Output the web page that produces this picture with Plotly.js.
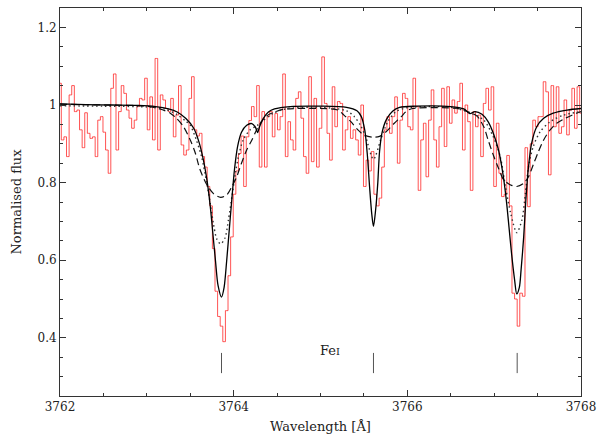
<!DOCTYPE html>
<html>
<head>
<meta charset="utf-8">
<script src="https://cdn.plot.ly/plotly-3.0.1.min.js"></script>
<style>
  body { margin: 0; background: #fff; }
  #chart { width: 598px; height: 447px; }
</style>
</head>
<body>
<div id="chart"></div>
<script>
// observed spectrum, 0.03 A steps from 3762.00 to 3768.00
const specStart = 3762.0;
const specStep  = 0.03;
const specFlux  = [
    1.056, 0.91, 0.918, 0.867, 1.026, 1.05, 0.983, 0.987, 0.936, 0.89,
    0.98, 0.927, 0.914, 0.918, 0.867, 0.961, 0.97, 0.93, 0.884, 0.824,
    1.043, 1.08, 0.884, 0.983, 1.05, 1.03, 0.987, 0.966, 0.94, 0.961,
    0.996, 1.017, 1.013, 1.069, 0.936, 1.021, 0.91, 1.12, 0.884, 1.026,
    1.013,
    0.991, 0.983, 1.017, 0.918, 0.974, 1.05, 0.897, 0.871, 0.884,
    1.017, 1.073, 0.936, 0.92, 0.927, 0.867, 0.84, 0.79, 0.74, 0.63,
    0.52, 0.455, 0.43, 0.39, 0.47, 0.56, 0.66, 0.77, 0.83, 0.875,
    0.92, 0.79, 0.918, 0.96, 0.996, 0.97, 1.05, 0.84, 0.983, 0.84,
    0.97, 0.983, 0.918, 0.978, 0.936, 0.97, 1.08, 0.867, 0.957, 0.91,
    0.884, 1.017, 1.034, 0.966, 0.867, 0.824, 1.073, 0.854, 1.017, 0.84,
    0.94, 1.124, 1.004, 0.927, 0.858, 1.047, 0.944, 1.009, 1.004, 0.884,
    0.936, 0.97, 0.914, 0.936, 0.91, 0.871, 1.0, 0.79, 0.858, 0.83,
    0.88, 0.77, 0.74, 0.76, 0.84, 0.936, 0.97, 0.927, 0.97, 1.021,
    0.85, 0.961, 1.03, 1.017, 0.944, 0.936, 1.069, 0.996, 0.78, 0.91,
    0.953, 0.815, 0.961, 1.039, 0.91, 0.84, 0.944, 1.043, 0.893, 1.047,
    0.953, 1.013, 0.979, 1.009, 1.056, 0.884, 1.0, 0.957,
    0.78, 0.983, 0.944, 0.974, 0.867, 1.004, 1.043, 0.987, 1.047, 0.79,
    0.953, 0.824, 0.764, 0.77, 0.87, 0.74, 0.515, 0.5, 0.43, 0.515,
    0.507, 0.89, 0.738, 0.9, 0.961, 0.944, 0.97, 0.97, 1.06, 1.034,
    0.82, 1.05, 0.944, 1.047, 0.927, 0.944, 1.013, 0.923, 0.987, 1.043,
    0.94, 1.047, 0.979
];

// model 1 (solid)
const solidX = [3762.00, 3762.30, 3762.60, 3762.90, 3763.10, 3763.25, 3763.35, 3763.45, 3763.54, 3763.60,
                3763.65, 3763.69, 3763.73, 3763.76, 3763.79, 3763.82, 3763.86, 3763.89, 3763.92, 3763.95,
                3763.98, 3764.01, 3764.045, 3764.09, 3764.15, 3764.21, 3764.25, 3764.275, 3764.30, 3764.34,
                3764.40, 3764.47, 3764.65, 3765.00, 3765.30, 3765.42, 3765.47, 3765.51, 3765.54, 3765.565,
                3765.59, 3765.61, 3765.635, 3765.66, 3765.68, 3765.71, 3765.76, 3765.83, 3765.91, 3766.10,
                3766.50, 3766.65, 3766.72, 3766.78, 3766.86, 3766.93, 3766.99, 3767.05, 3767.10, 3767.14,
                3767.17, 3767.20, 3767.235, 3767.26, 3767.29, 3767.31, 3767.34, 3767.365, 3767.395, 3767.43,
                3767.49, 3767.57, 3767.68, 3767.84, 3768.00];
const solidY = [1.003, 1.001, 1.0, 0.999, 0.996, 0.99, 0.982, 0.965, 0.94, 0.905,
                0.86, 0.81, 0.74, 0.67, 0.60, 0.535, 0.505, 0.53, 0.60, 0.68,
                0.76, 0.835, 0.893, 0.93, 0.948, 0.952, 0.943, 0.929, 0.945, 0.965,
                0.982, 0.99, 0.996, 0.997, 0.994, 0.985, 0.97, 0.935, 0.87, 0.79,
                0.72, 0.687, 0.73, 0.80, 0.88, 0.93, 0.963, 0.984, 0.994, 0.997,
                0.996, 0.99, 0.978, 0.983, 0.976, 0.957, 0.927, 0.884, 0.824, 0.755,
                0.687, 0.618, 0.55, 0.513, 0.53, 0.575, 0.66, 0.755, 0.84, 0.90,
                0.944, 0.966, 0.979, 0.987, 0.991];

// model 2 (dotted)
const dotX = [3762.00, 3762.50, 3763.00, 3763.20, 3763.35, 3763.45, 3763.50, 3763.57, 3763.63, 3763.69,
              3763.73, 3763.77, 3763.805, 3763.85, 3763.90, 3763.94, 3763.98, 3764.02, 3764.055, 3764.11,
              3764.19, 3764.27, 3764.34, 3764.45, 3764.60, 3765.00, 3765.30, 3765.39, 3765.46, 3765.52,
              3765.61, 3765.70, 3765.775, 3765.87, 3766.00, 3766.50, 3766.72, 3766.88, 3766.99, 3767.07,
              3767.13, 3767.19, 3767.26, 3767.32, 3767.36, 3767.395, 3767.45, 3767.53, 3767.645, 3767.80,
              3768.00];
const dotY = [0.998, 0.997, 0.995, 0.99, 0.975, 0.958, 0.948, 0.91, 0.867, 0.80,
              0.747, 0.69, 0.655, 0.642, 0.657, 0.704, 0.764, 0.824, 0.867, 0.91,
              0.936, 0.947, 0.96, 0.978, 0.99, 0.994, 0.985, 0.97, 0.948, 0.918,
              0.86, 0.915, 0.957, 0.983, 0.993, 0.994, 0.98, 0.961, 0.918, 0.867,
              0.79, 0.721, 0.671, 0.704, 0.773, 0.84, 0.893, 0.931, 0.957, 0.974,
              0.983];

// model 3 (dashed)
const dashX = [3762.00, 3762.50, 3763.00, 3763.15, 3763.27, 3763.34, 3763.42, 3763.50, 3763.56, 3763.61,
               3763.69, 3763.77, 3763.85, 3763.92, 3763.98, 3764.035, 3764.09, 3764.15, 3764.21, 3764.265,
               3764.32, 3764.38, 3764.45, 3764.58, 3765.00, 3765.20, 3765.27, 3765.35, 3765.425, 3765.50,
               3765.60, 3765.68, 3765.755, 3765.85, 3765.93, 3765.985, 3766.06, 3766.60, 3766.72, 3766.80,
               3766.88, 3766.93, 3766.99, 3767.05, 3767.11, 3767.19, 3767.26, 3767.34, 3767.395, 3767.45,
               3767.51, 3767.57, 3767.645, 3767.72, 3767.82, 3767.95, 3768.00];
const dashY = [1.002, 1.0, 0.997, 0.99, 0.979, 0.966, 0.945, 0.91, 0.875, 0.835,
               0.795, 0.771, 0.762, 0.768, 0.79, 0.815, 0.85, 0.884, 0.91, 0.936,
               0.957, 0.972, 0.98, 0.989, 0.991, 0.987, 0.974, 0.957, 0.937, 0.923,
               0.917, 0.919, 0.931, 0.953, 0.97, 0.983, 0.991, 0.99, 0.98, 0.972,
               0.944, 0.91, 0.871, 0.837, 0.807, 0.794, 0.79, 0.798, 0.815, 0.846,
               0.88, 0.91, 0.936, 0.953, 0.966, 0.979, 0.983];

// Fe I line positions and marker extent
const feLines  = [3763.86, 3765.61, 3767.265];
const markLow  = 0.309;
const markHigh = 0.361;
const feLabel  = { x: 3765.11, y: 0.368, text: 'Fe<span style="font-size:10px">I</span>' };

const FONT = 'DejaVu Serif, serif';

// build wavelength array for spectrum
const specX = specFlux.map((_, i) => +(specStart + i * specStep).toFixed(3));

// segments for line marks
const markX = [];
const markY = [];
feLines.forEach(l => {
    markX.push(l, l, null);
    markY.push(markLow, markHigh, null);
});

const traces = [
    {
        x: specX, y: specFlux, type: 'scatter', mode: 'lines',
        line: { color: 'rgba(255,40,40,0.8)', width: 1, shape: 'hvh' },
        hoverinfo: 'skip'
    },
    {
        x: dashX, y: dashY, type: 'scatter', mode: 'lines',
        line: { color: '#111', width: 1.2, dash: '7px,4px', shape: 'spline', smoothing: 0.8 }
    },
    {
        x: dotX, y: dotY, type: 'scatter', mode: 'lines',
        line: { color: '#333', width: 1.4, dash: '1.5px,3px', shape: 'spline', smoothing: 0.8 }
    },
    {
        x: solidX, y: solidY, type: 'scatter', mode: 'lines',
        line: { color: '#000', width: 1.3, shape: 'spline', smoothing: 0.8 }
    },
    {
        x: markX, y: markY, type: 'scatter', mode: 'lines',
        line: { color: '#555', width: 1 }
    }
];

const axisCommon = {
    showline: true, linecolor: '#333', linewidth: 1,
    mirror: 'allticks', ticks: 'inside', ticklen: 6, tickwidth: 1, tickcolor: '#333',
    showgrid: false, zeroline: false,
    tickfont: { family: FONT, size: 12, color: '#222' }
};

const layout = {
    width: 598, height: 447,
    margin: { l: 60, r: 17, t: 8, b: 51 },
    paper_bgcolor: '#fff', plot_bgcolor: '#fff',
    showlegend: false,
    xaxis: Object.assign({}, axisCommon, {
        range: [3762, 3768], tick0: 3762, dtick: 2,
        minor: { dtick: 0.5, ticks: 'inside', ticklen: 3, tickcolor: '#333' },
        title: { text: 'Wavelength [Å]', font: { family: FONT, size: 13, color: '#222' }, standoff: 8 }
    }),
    yaxis: Object.assign({}, axisCommon, {
        range: [0.25, 1.25], tick0: 0.4, dtick: 0.2,
        minor: { dtick: 0.05, ticks: 'inside', ticklen: 3, tickcolor: '#333' },
        title: { text: 'Normalised flux', font: { family: FONT, size: 13, color: '#222' }, standoff: 12 }
    }),
    annotations: [{
        x: feLabel.x, y: feLabel.y, text: feLabel.text, showarrow: false,
        font: { family: FONT, size: 13, color: '#222' }
    }]
};

Plotly.newPlot('chart', traces, layout, { displayModeBar: false, staticPlot: true });
</script>
</body>
</html>
